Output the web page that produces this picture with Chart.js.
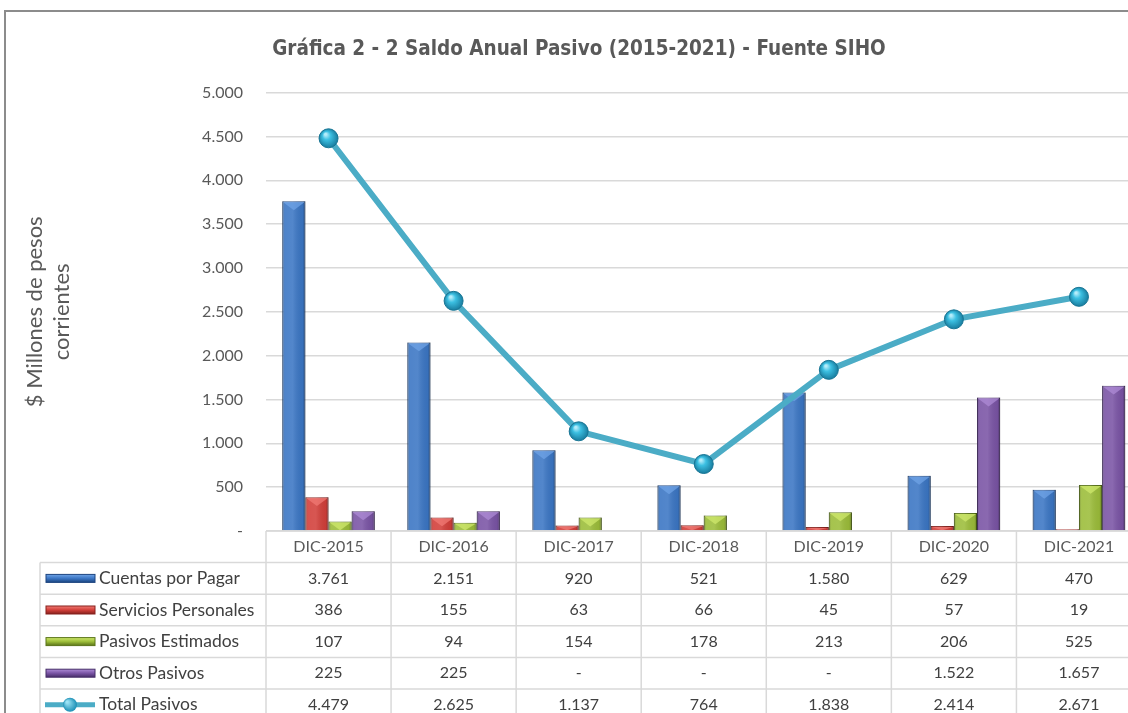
<!DOCTYPE html>
<html>
<head>
<meta charset="utf-8">
<script src="https://cdn.jsdelivr.net/npm/chart.js@4.4.1/dist/chart.umd.min.js"></script>
<style>
  body { margin: 0; background: #fff; overflow: hidden; }
  #frame { position: absolute; left: 4px; top: 10px; width: 1200px; height: 800px; border: 2px solid #8c8c8c; box-sizing: border-box; }
  #wrap { position: absolute; left: 0; top: 0; width: 1152px; height: 713px; }
</style>
</head>
<body>
<div id="frame"></div>
<div id="wrap"><canvas id="combo-chart" width="1152" height="713"></canvas></div>
<script>
// data
var categories = ['DIC-2015', 'DIC-2016', 'DIC-2017', 'DIC-2018', 'DIC-2019', 'DIC-2020', 'DIC-2021'];
var cuentasPorPagar = [3761, 2151, 920, 521, 1580, 629, 470];
var serviciosPersonales = [386, 155, 63, 66, 45, 57, 19];
var pasivosEstimados = [107, 94, 154, 178, 213, 206, 525];
var otrosPasivos = [225, 225, null, null, null, 1522, 1657];
var totalPasivos = [4479, 2625, 1137, 764, 1838, 2414, 2671];
var yTicks = [0, 500, 1000, 1500, 2000, 2500, 3000, 3500, 4000, 4500, 5000];

var textColor = '#595959';
var gridColor = '#d9d9d9';

function fmt(v) {
    if (v === null || v === 0) return '-';
    return String(v).replace(/\B(?=(\d{3})+(?!\d))/g, '.');
}

var seriesInfo = [
    { label: 'Cuentas por Pagar', data: cuentasPorPagar, color: '#3b76c4', dark: '#1d4580', light: '#6fa3e6' },
    { label: 'Servicios Personales', data: serviciosPersonales, color: '#d23f3a', dark: '#86211d', light: '#f07a74' },
    { label: 'Pasivos Estimados', data: pasivosEstimados, color: '#9cbd3a', dark: '#5a7419', light: '#cfe86c' },
    { label: 'Otros Pasivos', data: otrosPasivos, color: '#7a54a5', dark: '#472e69', light: '#ad8bd6' }
];

// little bevel on top of each bar, like the office 3d look
var bevelPlugin = {
    id: 'bevel',
    afterDatasetDraw: function (chart, args) {
        var meta = args.meta;
        if (meta.type !== 'bar') return;
        var ctx = chart.ctx;
        var light = chart.data.datasets[args.index].lightColor;
        ctx.save();
        meta.data.forEach(function (bar) {
            if (bar.skip || isNaN(bar.y)) return;
            var w = bar.width, h = bar.base - bar.y;
            if (!(h > 0)) return;
            var l = bar.x - w / 2;
            var g = ctx.createLinearGradient(l, 0, l + w, 0);
            g.addColorStop(0, 'rgba(0,0,0,0.30)');
            g.addColorStop(0.12, 'rgba(255,255,255,0.10)');
            g.addColorStop(0.45, 'rgba(255,255,255,0.12)');
            g.addColorStop(0.88, 'rgba(0,0,0,0.05)');
            g.addColorStop(1, 'rgba(0,0,0,0.35)');
            ctx.fillStyle = g;
            ctx.fillRect(l, bar.y, w, h);
            var th = Math.min(w / 2.6, h);
            ctx.beginPath();
            ctx.moveTo(l + 1, bar.y + 1);
            ctx.lineTo(l + w - 1, bar.y + 1);
            ctx.lineTo(bar.x, bar.y + th);
            ctx.closePath();
            ctx.fillStyle = light;
            ctx.globalAlpha = 0.75;
            ctx.fill();
            ctx.globalAlpha = 1;
        });
        ctx.restore();
    }
};

// data table under the plot, columns follow the x scale
var tablePlugin = {
    id: 'dataTable',
    afterDraw: function (chart) {
        var ctx = chart.ctx;
        var xs = chart.scales.x;
        var area = chart.chartArea;
        var colW = area.width / categories.length;
        var rowH = 31.6;
        var top = area.bottom;
        var legendLeft = 40;
        var nRows = seriesInfo.length + 1;
        var bottom = top + rowH * (nRows + 1);

        ctx.save();
        ctx.strokeStyle = gridColor;
        ctx.lineWidth = 1.5;
        // vertical lines
        for (var c = 0; c <= categories.length; c++) {
            var vx = area.left + c * colW;
            ctx.beginPath(); ctx.moveTo(vx, top); ctx.lineTo(vx, bottom); ctx.stroke();
        }
        ctx.beginPath(); ctx.moveTo(legendLeft, top + rowH); ctx.lineTo(legendLeft, bottom); ctx.stroke();
        // horizontal lines
        ctx.beginPath(); ctx.moveTo(area.left, top); ctx.lineTo(area.right, top); ctx.stroke();
        for (var r = 1; r <= nRows + 1; r++) {
            var hy = top + r * rowH;
            ctx.beginPath(); ctx.moveTo(legendLeft, hy); ctx.lineTo(area.right, hy); ctx.stroke();
        }

        var numFont = '16px Lato, "Open Sans", sans-serif';
        var labelFont = '17.5px Lato, "Open Sans", sans-serif';
        ctx.font = numFont;
        ctx.textBaseline = 'middle';
        ctx.textAlign = 'center';
        ctx.fillStyle = textColor;
        categories.forEach(function (cat, i) {
            ctx.fillText(cat, xs.getPixelForValue(i), top + rowH / 2);
        });

        var rows = seriesInfo.concat([{ label: 'Total Pasivos', data: totalPasivos, line: true }]);
        rows.forEach(function (row, r) {
            var cy = top + rowH * (r + 1) + rowH / 2;
            // legend key
            if (row.line) {
                ctx.strokeStyle = '#4bacc6';
                ctx.lineWidth = 5;
                ctx.beginPath(); ctx.moveTo(45, cy); ctx.lineTo(95, cy); ctx.stroke();
                var rg = ctx.createRadialGradient(67, cy - 3, 1, 70, cy, 7);
                rg.addColorStop(0, '#9be3f5');
                rg.addColorStop(1, '#1b8fb5');
                ctx.fillStyle = rg;
                ctx.beginPath(); ctx.arc(70, cy, 7, 0, Math.PI * 2); ctx.fill();
            } else {
                var lg = ctx.createLinearGradient(0, cy - 4, 0, cy + 4);
                lg.addColorStop(0, row.light);
                lg.addColorStop(0.5, row.color);
                lg.addColorStop(1, row.dark);
                ctx.fillStyle = lg;
                ctx.fillRect(46, cy - 4, 49, 8);
                ctx.strokeStyle = row.dark;
                ctx.lineWidth = 1;
                ctx.strokeRect(46, cy - 4, 49, 8);
            }
            ctx.fillStyle = '#404040';
            ctx.textAlign = 'left';
            ctx.font = labelFont;
            ctx.fillText(row.label, 99, cy);
            ctx.textAlign = 'center';
            ctx.font = numFont;
            row.data.forEach(function (v, i) {
                ctx.fillText(fmt(v), xs.getPixelForValue(i), cy);
            });
        });
        ctx.restore();
    }
};

// shaded ball markers on the total line
function ballColor(c) {
    if (c.type !== 'data') return '#2eaed3';
    var px = c.chart.scales.x.getPixelForValue(c.dataIndex);
    var py = c.chart.scales.y.getPixelForValue(c.raw);
    if (!isFinite(px) || !isFinite(py)) return '#2eaed3';
    var g = c.chart.ctx.createRadialGradient(px - 3, py - 4, 1, px, py, 10);
    g.addColorStop(0, '#b4ecfa');
    g.addColorStop(0.35, '#3cc0e2');
    g.addColorStop(1, '#16789a');
    return g;
}

var datasets = [{
    type: 'line',
    label: 'Total Pasivos',
    data: totalPasivos,
    borderColor: '#4bacc6',
    borderWidth: 6,
    pointRadius: 9.5,
    pointBackgroundColor: ballColor,
    pointBorderColor: '#177594',
    pointBorderWidth: 1,
    tension: 0,
    order: 0
}];
seriesInfo.forEach(function (s) {
    datasets.push({
        type: 'bar',
        label: s.label,
        data: s.data,
        backgroundColor: s.color,
        borderColor: s.dark,
        borderWidth: 1,
        lightColor: s.light,
        barPercentage: 1,
        categoryPercentage: 0.74,
        order: 1
    });
});

var ctx = document.getElementById('combo-chart').getContext('2d');
window.myChart = new Chart(ctx, {
    data: { labels: categories, datasets: datasets },
    plugins: [bevelPlugin, tablePlugin],
    options: {
        responsive: false,
        animation: false,
        layout: { padding: { left: 10, right: 4, top: 0, bottom: 182 } },
        plugins: {
            legend: { display: false },
            tooltip: { enabled: false },
            title: {
                display: true,
                text: 'Gráfica 2 - 2 Saldo Anual Pasivo (2015-2021) - Fuente SIHO',
                color: textColor,
                font: { family: '"Liberation Sans Narrow", "DejaVu Sans Condensed", sans-serif', size: 20.5, weight: 'bold', lineHeight: 1.2 },
                padding: { top: 37, bottom: 31 }
            }
        },
        scales: {
            x: { display: false, offset: true },
            y: {
                min: 0,
                max: 5000,
                afterBuildTicks: function (scale) {
                    scale.ticks = yTicks.map(function (v) { return { value: v }; });
                },
                afterFit: function (scale) { scale.width = 256; },
                grid: { color: gridColor, lineWidth: 1.5, drawTicks: false },
                border: { display: false },
                ticks: {
                    color: textColor,
                    padding: 23,
                    font: { family: 'Lato, "Open Sans", sans-serif', size: 16 },
                    callback: function (v) { return fmt(v); }
                },
                title: {
                    display: true,
                    text: ['$ Millones de pesos', 'corrientes'],
                    color: textColor,
                    font: { family: 'Lato, "Open Sans", sans-serif', size: 22, lineHeight: 1.23 },
                    padding: { top: 11.5, bottom: 0 }
                }
            }
        }
    }
});
</script>
</body>
</html>
